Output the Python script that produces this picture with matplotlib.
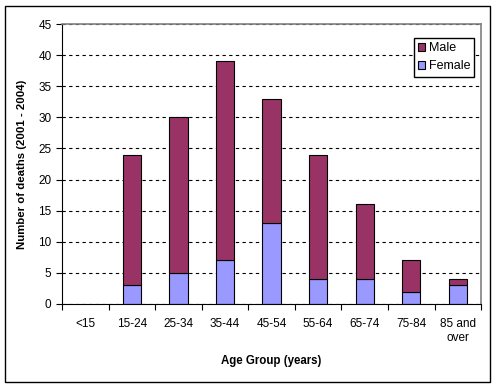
import numpy as np
import matplotlib
matplotlib.use('Agg')
import matplotlib.pyplot as plt
from matplotlib.patches import Rectangle, Patch

plt.rcParams['font.family'] = ['Liberation Sans', 'DejaVu Sans']

# data
age_groups = ['<15', '15-24', '25-34', '35-44', '45-54', '55-64', '65-74', '75-84', '85 and\nover']
female = [0, 3, 5, 7, 13, 4, 4, 2, 3]
male = [0, 21, 25, 32, 20, 20, 12, 5, 1]

col_f = '#9999FF'
col_m = '#993366'

fig = plt.figure(figsize=(4.96, 3.88), dpi=100)
ax = fig.add_axes([0.125, 0.2165, 0.845, 0.7215])

x = np.arange(len(age_groups))
w = 0.39
# no outline on empty bars
lw_f = [0.8 if v > 0 else 0 for v in female]
lw_m = [0.8 if v > 0 else 0 for v in male]
ax.bar(x, female, w, color=col_f, edgecolor='black', linewidth=lw_f)
ax.bar(x, male, w, bottom=female, color=col_m, edgecolor='black', linewidth=lw_m)

ax.set_xlim(-0.5, len(age_groups) - 0.5)
ax.set_ylim(0, 45)
ax.set_yticks(np.arange(0, 46, 5))
ax.set_xticks(x)
ax.set_xticklabels(age_groups, fontsize=8.5)
ax.set_xticks(np.arange(-0.5, len(age_groups), 1), minor=True)
ax.tick_params(axis='x', which='major', length=0, pad=10)
ax.tick_params(axis='x', which='minor', length=4, direction='out', width=0.8)
ax.tick_params(axis='y', labelsize=8.5, length=4, width=0.8, direction='out')

ax.yaxis.grid(True, linestyle=(0, (3, 3)), color='black', linewidth=0.8)
ax.set_axisbelow(True)

for s in ['top', 'right']:
    ax.spines[s].set_color('#808080')
    ax.spines[s].set_linewidth(1.2)
ax.spines['left'].set_linewidth(0.8)
ax.spines['bottom'].set_linewidth(0.8)

ax.set_xlabel('Age Group (years)', fontsize=8.3, fontweight='bold', labelpad=8)
ax.set_ylabel('Number of deaths (2001 - 2004)', fontsize=8.2, fontweight='bold', labelpad=8)

handles = [Patch(facecolor=col_m, edgecolor='black', linewidth=0.8, label='Male'),
           Patch(facecolor=col_f, edgecolor='black', linewidth=0.8, label='Female')]
leg = ax.legend(handles=handles, loc='upper right', bbox_to_anchor=(0.99, 0.96),
                fontsize=9, fancybox=False, framealpha=1, edgecolor='black',
                handlelength=0.6, handleheight=0.6, handletextpad=0.25,
                borderpad=0.35, labelspacing=0.5, borderaxespad=0.2)
leg.get_frame().set_linewidth(1.0)

fig.patches.append(Rectangle((5 / 496, 6 / 388), 485 / 496, 376 / 388, transform=fig.transFigure,
                             fill=False, edgecolor='black', linewidth=1.0))

fig.savefig('out.png', dpi=100)
